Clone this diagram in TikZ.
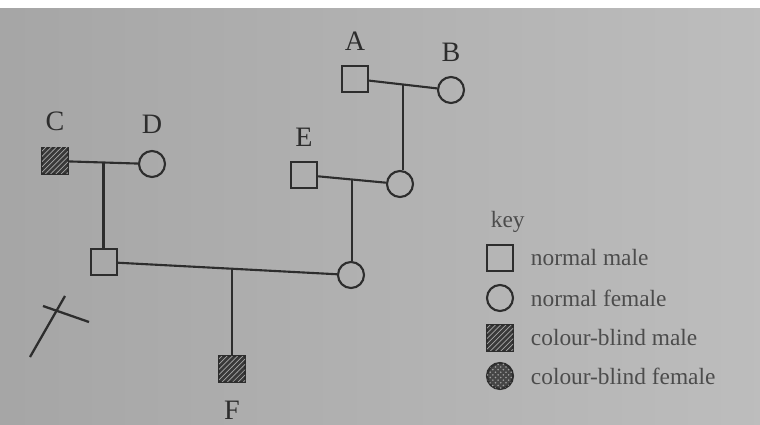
\documentclass[tikz,border=0pt]{standalone}
\usepackage{fontspec}
\setmainfont{Liberation Serif}
\usepackage{xcolor}
\usepackage{tikz}
\usetikzlibrary{positioning, calc, patterns}
\definecolor{inkcolor}{RGB}{45, 45, 45}

\begin{document}
\begin{tikzpicture}[
    x=0.02cm, y=-0.02cm,
    line width=1.2pt,
    male/.style={draw=inkcolor, rectangle, minimum size=0.52cm, inner sep=0pt},
    female/.style={draw=inkcolor, circle, minimum size=0.52cm, inner sep=0pt},
    cbmale/.style={male, fill=gray!45!black, postaction={pattern=north east lines, pattern color=gray!70}},
    cbfemale/.style={female, fill=gray!55!black, postaction={pattern=crosshatch dots, pattern color=gray!75}},
    tag/.style={font=\fontsize{16}{18}\selectfont, text=inkcolor},
    keytext/.style={font=\fontsize{13.3}{15}\selectfont, text=inkcolor!85, anchor=west},
    mate/.style={draw=inkcolor}
]
    % Photo background
    \shade[left color=gray!70, right color=gray!52] (0,0) rectangle (760,425);
    \fill[white] (0,0) rectangle (760,8);
    \useasboundingbox (0,0) rectangle (760,425);

    % Grandparents
    \node[male] (A) at (355,79) {};
    \node[female] (B) at (451,90) {};
    \node[cbmale] (C) at (55,161) {};
    \node[female] (D) at (152,164) {};
    \node[male] (E) at (304,175) {};

    % Parents and child
    \node[female] (mother) at (400,184) {};
    \node[male] (son) at (104,262) {};
    \node[female] (daughter) at (351,275) {};
    \node[cbmale] (F) at (232,369) {};

    % Letters
    \node[tag, above=0.15cm of A] {A};
    \node[tag, above=0.15cm of B] {B};
    \node[tag, above=0.18cm of C] {C};
    \node[tag, above=0.18cm of D] {D};
    \node[tag, above=0.15cm of E] {E};
    \node[tag, below=0.22cm of F] {F};

    % Marriage lines and descent
    \coordinate (mAB) at ($(A)!0.5!(B)$);
    \coordinate (mCD) at ($(C)!0.5!(D)$);
    \coordinate (mE) at ($(E)!0.5!(mother)$);
    \coordinate (mSD) at ($(son)!0.52!(daughter)$);
    \draw[mate] (A) -- (B);
    \draw[mate] (C) -- (D);
    \draw[mate] (E) -- (mother);
    \draw[mate] (son) -- (daughter);
    \draw[mate] (mAB) -- (mAB |- mother.north);
    \draw[mate] (mCD) -- (mCD |- son.north);
    \draw[mate] (mE) -- (mE |- daughter.north);
    \draw[mate] (mSD) -- (mSD |- F.north);

    % Pencil mark
    \draw[inkcolor, line width=1.3pt] (30,357) -- (65,296);
    \draw[inkcolor, line width=1.3pt] (43,306) -- (89,322);

    % Key
    \node[keytext] (key) at (484,222) {key};
    \node[male] (kmale) at (500,258) {};
    \node[female] (kfemale) at (500,298) {};
    \node[cbmale] (kcbmale) at (500,338) {};
    \node[cbfemale] (kcbfemale) at (500,376) {};
    \node[keytext, right=0.2cm of kmale] {normal male};
    \node[keytext, right=0.2cm of kfemale] {normal female};
    \node[keytext, right=0.2cm of kcbmale] {colour-blind male};
    \node[keytext, right=0.2cm of kcbfemale] {colour-blind female};
\end{tikzpicture}
\end{document}
